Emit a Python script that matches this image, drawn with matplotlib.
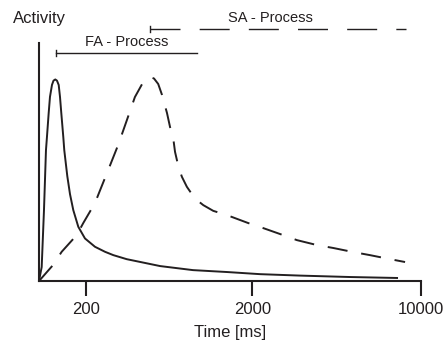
import matplotlib
matplotlib.use("Agg")
import matplotlib.pyplot as plt
import numpy as np

plt.rcParams["font.family"] = ["Liberation Sans", "DejaVu Sans"]
plt.rcParams["lines.scale_dashes"] = False

INK = "#231f20"

# time axis is drawn on a 0..100 position scale, labelled with the original times
tick_pos = [12.2, 55.8, 100]
tick_lbl = ["200", "2000", "10000"]

# FA process (solid)
fa_x = [0, 0.71, 1.31, 1.83, 2.09, 2.54, 2.88, 3.40, 3.80, 4.27, 4.71, 5.16, 5.50,
        5.84, 6.36, 6.62, 7.41, 8.12, 8.98, 10.29, 12.04, 14.66, 17.28, 19.45,
        22.96, 31.7, 40.3, 49.2, 57.9, 68.3, 81.4, 93.7]
fa_y = [0, 5.9, 29.8, 55.0, 60.6, 70.6, 77.4, 82.4, 84.2, 84.7, 84.2, 82.4, 77.4,
        70.6, 60.6, 55.0, 44.1, 36.5, 29.8, 22.8, 17.9, 14.4, 12.3, 10.9,
        9.2, 6.3, 4.6, 3.8, 2.9, 2.3, 1.7, 1.3]

# SA process (dashed)
sa_x = [0, 3.66, 5.94, 9.87, 11.6, 14.66, 16.0, 18.1, 20.7, 23.0, 25.1, 27.0, 28.0,
        29.1, 30.1, 31.2, 32.2, 33.5, 34.3, 35.2, 35.6, 36.5, 37.4, 38.7, 40.8,
        43.0, 45.6, 49.2, 54.7, 58.6, 63.9, 67.5, 72.8, 77.0, 82.2, 86.6, 91.9, 95.8]
sa_y = [0, 6.7, 12.3, 19.3, 24.4, 32.8, 38.2, 46.6, 57.1, 67.6, 77.3, 82.8, 84.9,
        85.7, 85.1, 82.8, 78.2, 70.6, 64.7, 59.2, 54.3, 48.0, 43.8, 39.6, 34.7,
        31.9, 29.5, 27.7, 24.4, 22.3, 19.3, 17.2, 15.1, 13.9, 12.2, 10.9, 9.2, 8.0]

# duration bars (start, end, height)
fa_bar = (4.45, 41.4, 95.8)
sa_bar = (29.1, 96.1, 105.9)

fig = plt.figure(figsize=(4.48, 3.47), dpi=100)
ax = fig.add_axes([0.087, 0.190, 0.853, 0.686])
ax.set_xlim(0, 100)
ax.set_ylim(0, 100)

ax.plot(fa_x, fa_y, color=INK, lw=1.4, solid_joinstyle="round")
ax.plot(sa_x, sa_y, color=INK, lw=1.4, dashes=(14.5, 10), dash_capstyle="butt",
        dash_joinstyle="round")

# process bars
ax.plot([fa_bar[0], fa_bar[1]], [fa_bar[2], fa_bar[2]], color=INK, lw=1.0, clip_on=False)
ax.plot([fa_bar[0], fa_bar[0]], [fa_bar[2] - 1.4, fa_bar[2] + 1.4], color=INK, lw=1.0, clip_on=False)
ax.text((fa_bar[0] + fa_bar[1]) / 2, 100.4, "FA - Process", ha="center", va="center",
        fontsize=10.5, color=INK, clip_on=False)

ax.plot([sa_bar[0], sa_bar[1]], [sa_bar[2], sa_bar[2]], color=INK, lw=1.0,
        dashes=(21.6, 13.8), clip_on=False)
ax.plot([sa_bar[0], sa_bar[0]], [sa_bar[2] - 1.3, sa_bar[2] + 1.3], color=INK, lw=1.0, clip_on=False)
ax.text(60.6, 110.7, "SA - Process", ha="center", va="center",
        fontsize=10.5, color=INK, clip_on=False)

ax.text(0.13, 110.5, "Activity", ha="center", va="center", fontsize=12, color=INK, clip_on=False)

for s in ["top", "right"]:
    ax.spines[s].set_visible(False)
for s in ["left", "bottom"]:
    ax.spines[s].set_color(INK)
    ax.spines[s].set_linewidth(1.5)

ax.set_yticks([])
ax.set_xticks(tick_pos)
ax.set_xticklabels(tick_lbl)
ax.tick_params(axis="x", length=10.8, width=1.5, color=INK, labelcolor=INK,
               labelsize=12, pad=4)
ax.set_xlabel("Time [ms]", fontsize=12, color=INK, labelpad=6)

fig.savefig("out.png", dpi=100)
